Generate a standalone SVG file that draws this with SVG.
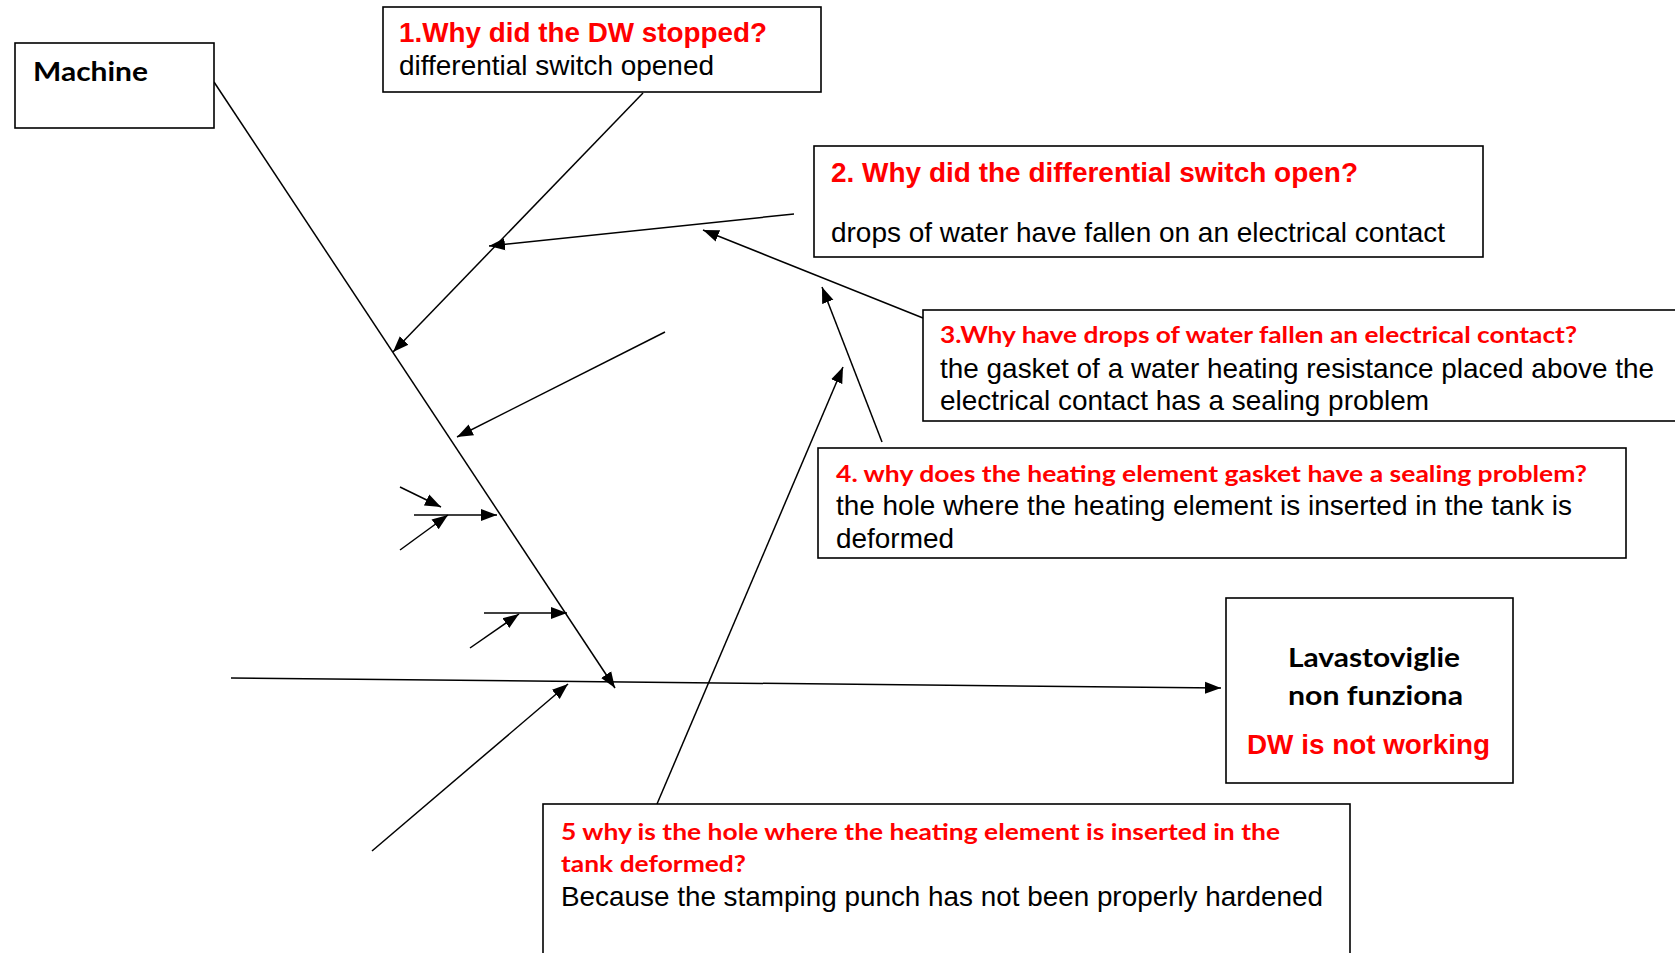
<svg xmlns="http://www.w3.org/2000/svg" width="1675" height="953" viewBox="0 0 1675 953">
<style>
.box{fill:#fff;stroke:#000;stroke-width:1.6}
.ln{fill:none;stroke:#000;stroke-width:1.5}
.arr{marker-end:url(#ah)}
.ar{font-family:"Liberation Sans",Arial,sans-serif;font-size:28px;fill:#000}
.arb{font-family:"Liberation Sans",Arial,sans-serif;font-size:28px;font-weight:bold;fill:#ff0000}
.cb{font-family:Lato,"Liberation Sans",sans-serif;font-weight:bold;fill:#000}
.cr{font-family:Lato,"Liberation Sans",sans-serif;font-weight:bold;font-size:23px;fill:#ff0000}
</style>
<defs>
<marker id="ah" markerUnits="userSpaceOnUse" markerWidth="18" markerHeight="14" viewBox="0 -7 18 14" refX="16" refY="0" orient="auto">
<path d="M0,-6 L16,0 L0,6 z" fill="#000"/>
</marker>
</defs>
<rect width="1675" height="953" fill="#fff"/>

<g id="connectors">
<line class="ln arr" x1="214" y1="82" x2="615" y2="688"/>
<line class="ln arr" x1="231" y1="678" x2="1221" y2="688"/>
<line class="ln arr" x1="643" y1="93" x2="393" y2="352"/>
<line class="ln arr" x1="794" y1="214" x2="489" y2="246"/>
<line class="ln arr" x1="923" y1="318" x2="703" y2="230"/>
<line class="ln arr" x1="882" y1="442" x2="822" y2="287"/>
<line class="ln arr" x1="657" y1="804" x2="843" y2="367"/>
<line class="ln arr" x1="665" y1="332" x2="457" y2="437"/>
<line class="ln arr" x1="400" y1="487" x2="441" y2="507"/>
<line class="ln arr" x1="414" y1="515" x2="497" y2="515"/>
<line class="ln arr" x1="400" y1="550" x2="448" y2="515"/>
<line class="ln arr" x1="484" y1="613" x2="567" y2="613"/>
<line class="ln arr" x1="470" y1="648" x2="519" y2="614"/>
<line class="ln arr" x1="372" y1="851" x2="568" y2="684"/>
</g>

<g id="machine">
<rect class="box" x="15" y="43" width="199" height="85"/>
<text class="cb" x="33" y="81" font-size="27" textLength="115" lengthAdjust="spacingAndGlyphs">Machine</text>
</g>

<g id="why1">
<rect class="box" x="383" y="7" width="438" height="85"/>
<text class="arb" x="399" y="42" textLength="368" lengthAdjust="spacingAndGlyphs">1.Why did the DW stopped?</text>
<text class="ar" x="399" y="75" textLength="315" lengthAdjust="spacingAndGlyphs">differential switch opened</text>
</g>

<g id="why2">
<rect class="box" x="814" y="146" width="669" height="111"/>
<text class="arb" x="831" y="182" textLength="527" lengthAdjust="spacingAndGlyphs">2. Why did the differential switch open?</text>
<text class="ar" x="831" y="242" textLength="614" lengthAdjust="spacingAndGlyphs">drops of water have fallen on an electrical contact</text>
</g>

<g id="why3">
<rect class="box" x="923" y="310" width="770" height="111"/>
<text class="cr" x="940" y="343" textLength="637" lengthAdjust="spacingAndGlyphs">3.Why have drops of water fallen an electrical contact?</text>
<text class="ar" x="940" y="378" textLength="714" lengthAdjust="spacingAndGlyphs">the gasket of a water heating resistance placed above the</text>
<text class="ar" x="940" y="410" textLength="489" lengthAdjust="spacingAndGlyphs">electrical contact has a sealing problem</text>
</g>

<g id="why4">
<rect class="box" x="818" y="448" width="808" height="110"/>
<text class="cr" x="836" y="482" textLength="751" lengthAdjust="spacingAndGlyphs">4. why does the heating element gasket have a sealing problem?</text>
<text class="ar" x="836" y="515" textLength="736" lengthAdjust="spacingAndGlyphs">the hole where the heating element is inserted in the tank is</text>
<text class="ar" x="836" y="548" textLength="118" lengthAdjust="spacingAndGlyphs">deformed</text>
</g>

<g id="effect">
<rect class="box" x="1226" y="598" width="287" height="185"/>
<text class="cb" x="1288" y="667" font-size="26" textLength="172" lengthAdjust="spacingAndGlyphs">Lavastoviglie</text>
<text class="cb" x="1288" y="705" font-size="26" textLength="175" lengthAdjust="spacingAndGlyphs">non funziona</text>
<text class="arb" x="1247" y="754" textLength="243" lengthAdjust="spacingAndGlyphs">DW is not working</text>
</g>

<g id="why5">
<rect class="box" x="543" y="804" width="807" height="170"/>
<text class="cr" x="561" y="840" font-size="24" textLength="719" lengthAdjust="spacingAndGlyphs">5 why is the hole where the heating element is inserted in the</text>
<text class="cr" x="561" y="872" font-size="24" textLength="185" lengthAdjust="spacingAndGlyphs">tank deformed?</text>
<text class="ar" x="561" y="906" textLength="762" lengthAdjust="spacingAndGlyphs">Because the stamping punch has not been properly hardened</text>
</g>
</svg>
